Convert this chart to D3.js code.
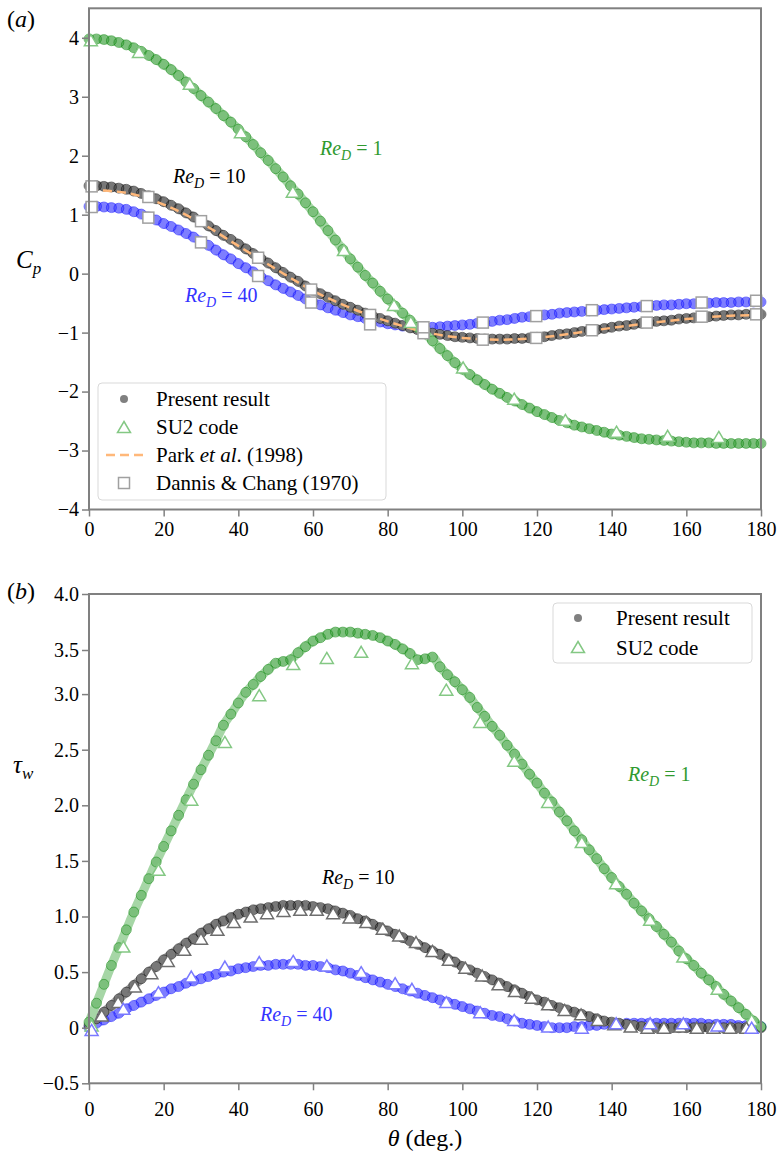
<!DOCTYPE html>
<html>
<head>
<meta charset="utf-8">
<script src="https://cdn.jsdelivr.net/npm/d3@7"></script>
<style>
  body { margin: 0; background: #fff; }
  text { font-family: "Liberation Serif", "Times New Roman", serif; }
</style>
</head>
<body>
<div id="chart"></div>
<script>
// sample angles of the present result (deg.)
const thetaDots = [0,2,4,6,8,10,12,14,16,18,20,22,24,26,28,30,32,34,36,38,40,42,44,46,48,50,52,54,56,58,
  60,62,64,66,68,70,72,74,76,78,80,82,84,86,88,90,92,94,96,98,100,102,104,106,108,110,112,114,116,118,
  120,122,124,126,128,130,132,134,136,138,140,142,144,146,148,150,152,154,156,158,160,162,164,166,168,170,
  172,174,176,178,180];

// (a) pressure coefficient, present result
const cpRe1 = [3.98,3.98,3.97,3.95,3.92,3.88,3.83,3.77,3.70,3.63,
  3.55,3.46,3.36,3.25,3.14,3.02,2.91,2.80,2.68,2.57,
  2.45,2.32,2.19,2.05,1.92,1.78,1.64,1.49,1.35,1.20,
  1.05,0.89,0.73,0.57,0.41,0.25,0.11,-0.03,-0.16,-0.30,
  -0.43,-0.55,-0.67,-0.79,-0.91,-1.02,-1.14,-1.27,-1.39,-1.51,
  -1.62,-1.71,-1.80,-1.88,-1.96,-2.03,-2.10,-2.16,-2.22,-2.28,
  -2.34,-2.39,-2.44,-2.49,-2.53,-2.57,-2.60,-2.63,-2.66,-2.69,
  -2.72,-2.74,-2.76,-2.78,-2.80,-2.81,-2.82,-2.83,-2.84,-2.85,
  -2.86,-2.87,-2.87,-2.87,-2.88,-2.88,-2.88,-2.88,-2.88,-2.88,-2.88];
const cpRe10 = [1.49,1.49,1.48,1.47,1.45,1.43,1.40,1.36,1.32,1.27,
  1.22,1.16,1.10,1.03,0.96,0.89,0.81,0.73,0.65,0.58,
  0.50,0.42,0.34,0.26,0.18,0.10,0.02,-0.06,-0.13,-0.21,
  -0.28,-0.34,-0.40,-0.46,-0.52,-0.57,-0.62,-0.67,-0.72,-0.76,
  -0.80,-0.84,-0.88,-0.92,-0.95,-0.98,-1.01,-1.03,-1.05,-1.07,
  -1.08,-1.09,-1.10,-1.11,-1.11,-1.11,-1.11,-1.10,-1.10,-1.09,
  -1.08,-1.07,-1.05,-1.03,-1.02,-1.00,-0.98,-0.96,-0.95,-0.93,
  -0.91,-0.89,-0.88,-0.86,-0.84,-0.83,-0.81,-0.80,-0.79,-0.77,
  -0.76,-0.75,-0.74,-0.73,-0.72,-0.71,-0.70,-0.70,-0.69,-0.69,-0.69];
const cpRe40 = [1.14,1.14,1.13,1.12,1.11,1.09,1.05,1.01,0.96,0.91,
  0.85,0.80,0.74,0.68,0.62,0.55,0.48,0.40,0.32,0.25,
  0.17,0.10,0.03,-0.05,-0.12,-0.19,-0.25,-0.31,-0.37,-0.43,
  -0.49,-0.53,-0.58,-0.62,-0.66,-0.70,-0.73,-0.76,-0.79,-0.82,
  -0.85,-0.87,-0.89,-0.90,-0.91,-0.91,-0.91,-0.90,-0.89,-0.88,
  -0.87,-0.86,-0.84,-0.83,-0.81,-0.79,-0.78,-0.76,-0.74,-0.73,
  -0.71,-0.70,-0.69,-0.67,-0.66,-0.65,-0.64,-0.63,-0.62,-0.61,
  -0.60,-0.59,-0.58,-0.57,-0.56,-0.55,-0.54,-0.53,-0.53,-0.52,
  -0.51,-0.51,-0.50,-0.50,-0.49,-0.49,-0.49,-0.48,-0.48,-0.48,-0.48];

// (a) SU2 code, Re_D = 1
const su2ThetaA = [0.5,13.4,27,40.7,54.6,68.3,81.7,86.2,100.2,113.9,127.6,141.3,155,168.7];
const su2CpRe1 = [3.96,3.76,3.22,2.40,1.39,0.40,-0.53,-0.82,-1.59,-2.12,-2.48,-2.68,-2.75,-2.77];

// (a) Park et al. (1998), Re_D = 10
const parkTheta = [0,10,20,30,40,50,60,70,80,90,100,110,120,130,140,150,160,170,180];
const parkCp = [1.42,1.37,1.17,0.86,0.47,0.08,-0.29,-0.58,-0.81,-0.99,-1.09,-1.12,-1.09,-1.01,-0.92,-0.84,-0.77,-0.72,-0.70];

// (a) Dannis & Chang (1970)
const dcTheta = [0.7,15.9,30,45.3,59.5,75.3,89.6,105.5,119.8,134.7,149.4,164.1,178.7];
const dcRe10 = [1.48,1.30,0.89,0.27,-0.27,-0.70,-1.01,-1.12,-1.09,-0.96,-0.83,-0.73,-0.69];
const dcRe40 = [1.13,0.95,0.53,-0.04,-0.49,-0.86,-0.91,-0.83,-0.72,-0.62,-0.55,-0.49,-0.46];

// (b) wall shear stress, present result
const tauRe1 = [0.05,0.22,0.39,0.56,0.72,0.88,1.04,1.19,1.34,1.49,
  1.63,1.77,1.91,2.05,2.19,2.32,2.45,2.58,2.72,2.82,
  2.92,3.02,3.11,3.20,3.28,3.35,3.37,3.39,3.47,3.53,
  3.58,3.61,3.64,3.66,3.66,3.66,3.65,3.64,3.63,3.61,
  3.58,3.55,3.51,3.46,3.39,3.40,3.42,3.31,3.22,3.14,
  3.05,2.97,2.88,2.80,2.71,2.63,2.54,2.46,2.37,2.28,
  2.20,2.11,2.03,1.94,1.86,1.77,1.69,1.60,1.52,1.43,
  1.35,1.27,1.20,1.12,1.05,0.98,0.91,0.84,0.77,0.69,
  0.62,0.56,0.49,0.43,0.37,0.30,0.24,0.18,0.12,0.06,0.01];
const tauRe10 = [0.02,0.08,0.14,0.20,0.26,0.32,0.38,0.44,0.50,0.55,
  0.61,0.66,0.71,0.76,0.80,0.85,0.89,0.93,0.96,0.99,
  1.02,1.04,1.06,1.07,1.08,1.09,1.10,1.10,1.10,1.10,
  1.09,1.08,1.07,1.05,1.03,1.01,0.98,0.96,0.93,0.90,
  0.87,0.84,0.81,0.78,0.75,0.72,0.69,0.66,0.62,0.59,
  0.55,0.52,0.49,0.46,0.43,0.40,0.37,0.34,0.31,0.28,
  0.25,0.23,0.20,0.18,0.16,0.14,0.12,0.10,0.08,0.06,
  0.05,0.04,0.03,0.02,0.01,0.01,0.00,0.00,0.00,0.00,
  0.00,0.00,0.00,0.00,0.00,0.00,0.00,0.00,0.00,0.00,0.00];
const tauRe40 = [0.00,0.04,0.07,0.10,0.13,0.17,0.20,0.23,0.26,0.29,
  0.32,0.35,0.37,0.40,0.42,0.44,0.46,0.48,0.50,0.51,
  0.53,0.54,0.55,0.56,0.56,0.57,0.57,0.57,0.57,0.56,
  0.56,0.55,0.54,0.52,0.51,0.49,0.47,0.45,0.43,0.41,
  0.39,0.37,0.35,0.33,0.31,0.29,0.27,0.25,0.23,0.21,
  0.19,0.17,0.15,0.13,0.11,0.10,0.08,0.06,0.04,0.03,
  0.02,0.01,0.00,0.00,0.00,0.01,0.01,0.02,0.02,0.03,
  0.03,0.03,0.04,0.04,0.04,0.04,0.04,0.04,0.04,0.04,
  0.04,0.04,0.04,0.03,0.03,0.03,0.03,0.02,0.02,0.01,0.01];

// (b) SU2 code
const su2ThetaB = [0.7,9.2,18.6,27.4,36.4,45.6,54.7,63.7,72.9,82.0,86.5,95.7,104.8,113.9,123.0,132.0,141.2,150.3,159.2,168.4,177.5];
const su2TauRe1 = [0.02,0.73,1.42,2.05,2.57,2.99,3.34,3.41,3.48,null,3.35,3.05,2.75,2.40,2.03,1.67,1.30,0.97,0.64,0.35,0.07];
const su2TauRe40 = [-0.02,0.17,0.32,0.46,0.55,0.59,0.60,0.56,0.50,0.40,0.35,0.23,0.14,0.07,0.01,0.00,0.04,0.04,0.04,0.02,0.00];
const su2ThetaB10 = [3.4,7.8,12.3,16.7,21.1,25.5,30.0,34.4,38.8,43.3,47.7,52.1,56.6,61.0,65.4,69.8,74.3,78.7,83.1,87.6,
  92.0,96.4,100.8,105.3,109.7,114.1,118.6,123.0,127.4,131.8,136.3,140.7,145.1,149.6,154.0,158.4,162.8,167.3,171.7,176.1];
const su2TauRe10 = [0.11,0.23,0.37,0.49,0.60,0.70,0.80,0.88,0.95,1.00,1.03,1.05,1.06,1.06,1.03,0.99,0.95,0.89,0.83,0.77,
  0.69,0.61,0.54,0.47,0.39,0.33,0.27,0.21,0.16,0.12,0.07,0.03,0.01,0.00,0.00,0.01,0.00,0.00,0.00,0.00];

// ticks
const xTicks = [0,20,40,60,80,100,120,140,160,180];
const cpTicks = [-4,-3,-2,-1,0,1,2,3,4];
const tauTicks = [-0.5,0,0.5,1,1.5,2,2.5,3,3.5,4];

const C = {
  green: "#2f9a2f", blue: "#3333ff",
  triGreen: "#84c884", triGray: "#6e6e6e", triBlue: "#7a7aff",
  square: "#a0a0a0", park: "#ffb87a", axis: "#808080"
};
const SERIF = '"Liberation Serif", "Times New Roman", serif';

const svg = d3.select("#chart").append("svg")
  .attr("width", 778).attr("height", 1157);

const x = d3.scaleLinear().domain([0, 180]).range([89, 761]);
const yA = d3.scaleLinear().domain([-4, 4.5]).range([509.5, 8.3]);
const yB = d3.scaleLinear().domain([-0.5, 3, 3.5, 4]).range([1083.3, 694.1, 650, 594]);

const cpFmt = v => (v < 0 ? "\u2212" : "") + Math.abs(v);
const tauFmt = v => v === 0 ? "0" : (v < 0 ? "\u2212" : "") + Math.abs(v).toFixed(1);

function triPath(w, h) {
  return `M0,${-h / 2}L${w / 2},${h / 2}L${-w / 2},${h / 2}Z`;
}

// present result: a faint band through the samples, then the ring markers
function dots(g, y, vals, col, bandCol) {
  const pts = d3.zip(thetaDots, vals);
  g.append("path").datum(pts)
    .attr("d", d3.line().x(d => x(d[0])).y(d => y(d[1])).curve(d3.curveMonotoneX))
    .attr("fill", "none").attr("stroke", bandCol).attr("stroke-width", 9)
    .attr("stroke-linecap", "round");
  g.append("g").selectAll("circle")
    .data(pts)
    .join("circle")
    .attr("cx", d => x(d[0]))
    .attr("cy", d => y(d[1]))
    .attr("r", 5)
    .attr("fill", col).attr("fill-opacity", 0.25)
    .attr("stroke", col).attr("stroke-opacity", 0.45).attr("stroke-width", 1);
}

function triangles(g, y, th, vals, col) {
  g.append("g").selectAll("path")
    .data(d3.zip(th, vals).filter(d => d[1] !== null))
    .join("path")
    .attr("d", triPath(13, 11))
    .attr("transform", d => `translate(${x(d[0])},${y(d[1])})`)
    .attr("fill", "#fff").attr("stroke", col).attr("stroke-width", 1.5);
}

function squares(g, y, th, vals) {
  g.append("g").selectAll("rect")
    .data(d3.zip(th, vals))
    .join("rect")
    .attr("x", d => x(d[0]) - 5.5).attr("y", d => y(d[1]) - 5.5)
    .attr("width", 11).attr("height", 11)
    .attr("fill", "#fff").attr("stroke", C.square).attr("stroke-width", 1.5);
}

function axes(y, yTicks, yFmt, top, bottom, xPad) {
  const gx = svg.append("g").attr("transform", `translate(0,${bottom})`)
    .call(d3.axisBottom(x).tickValues(xTicks).tickSize(7).tickPadding(xPad));
  const gy = svg.append("g").attr("transform", "translate(89,0)")
    .call(d3.axisLeft(y).tickValues(yTicks).tickFormat(yFmt).tickSize(7).tickPadding(3));
  [gx, gy].forEach(a => {
    a.attr("font-family", null).attr("font-size", null);
    a.select(".domain").remove();
    a.selectAll(".tick line").attr("stroke", C.axis).attr("stroke-width", 1.5);
    a.selectAll(".tick text").attr("fill", "#000")
      .style("font-family", SERIF).style("font-size", "20px");
  });
  svg.append("rect").attr("x", 89).attr("y", top)
    .attr("width", 672).attr("height", bottom - top)
    .attr("fill", "none").attr("stroke", C.axis).attr("stroke-width", 2);
}

function reLabel(px, py, num, col) {
  const t = svg.append("text").attr("x", px).attr("y", py)
    .attr("fill", col).attr("font-size", 20);
  t.append("tspan").attr("font-style", "italic").text("Re");
  t.append("tspan").attr("font-style", "italic").attr("font-size", 14).attr("dy", 5).text("D");
  t.append("tspan").attr("dy", -5).text(" = " + num);
}

function subLabel(px, py, main, sub) {
  const t = svg.append("text").attr("x", px).attr("y", py).attr("font-size", 25);
  t.append("tspan").attr("font-style", "italic").text(main);
  t.append("tspan").attr("font-style", "italic").attr("font-size", 17).attr("dy", 6).text(sub);
}

function panelTag(py, letter) {
  const t = svg.append("text").attr("x", 7).attr("y", py).attr("font-size", 24);
  t.append("tspan").text("(");
  t.append("tspan").attr("font-style", "italic").text(letter);
  t.append("tspan").text(")");
}

// ---------- panel (a) ----------
const gA = svg.append("g");
dots(gA, yA, cpRe40, "#0000ff", "#a8a8ff");
dots(gA, yA, cpRe10, "#000000", "#a0a0a0");
dots(gA, yA, cpRe1, "#008000", "#a6d6a6");
gA.append("path")
  .datum(d3.zip(parkTheta, parkCp))
  .attr("d", d3.line().x(d => x(d[0])).y(d => yA(d[1])).curve(d3.curveMonotoneX))
  .attr("fill", "none").attr("stroke", C.park).attr("stroke-width", 2.5)
  .attr("stroke-dasharray", "9,5");
triangles(gA, yA, su2ThetaA, su2CpRe1, C.triGreen);
squares(gA, yA, dcTheta, dcRe10);
squares(gA, yA, dcTheta, dcRe40);
axes(yA, cpTicks, cpFmt, 8.3, 509.5, 5);

// legend (a)
const lgA = svg.append("g");
lgA.append("rect").attr("x", 98).attr("y", 383).attr("width", 288).attr("height", 117)
  .attr("rx", 4).attr("fill", "#fff").attr("stroke", "#d9d9d9");
lgA.append("circle").attr("cx", 124).attr("cy", 399).attr("r", 4).attr("fill", "#808080");
lgA.append("path").attr("d", triPath(13, 11)).attr("transform", "translate(124,427)")
  .attr("fill", "#fff").attr("stroke", C.triGreen).attr("stroke-width", 1.5);
lgA.append("line").attr("x1", 106).attr("x2", 143).attr("y1", 455).attr("y2", 455)
  .attr("stroke", C.park).attr("stroke-width", 2.5).attr("stroke-dasharray", "9,5");
lgA.append("rect").attr("x", 118.5).attr("y", 477.5).attr("width", 11).attr("height", 11)
  .attr("fill", "#fff").attr("stroke", C.square).attr("stroke-width", 1.5);
const legA = ["Present result", "SU2 code", null, "Dannis & Chang (1970)"];
const legY = [399, 427, 455, 483];
legA.forEach((s, i) => {
  const t = lgA.append("text").attr("x", 156).attr("y", legY[i] + 7).attr("font-size", 21);
  if (s) t.text(s);
  else {
    t.append("tspan").text("Park ");
    t.append("tspan").attr("font-style", "italic").text("et al");
    t.append("tspan").text(". (1998)");
  }
});

reLabel(320, 155, "1", C.green);
reLabel(173, 183, "10", "#000");
reLabel(185, 302, "40", C.blue);
subLabel(16, 268, "C", "p");
panelTag(27, "a");

// ---------- panel (b) ----------
const gB = svg.append("g");
dots(gB, yB, tauRe40, "#0000ff", "#a8a8ff");
dots(gB, yB, tauRe10, "#000000", "#a0a0a0");
dots(gB, yB, tauRe1, "#008000", "#a6d6a6");
triangles(gB, yB, su2ThetaB, su2TauRe1, C.triGreen);
triangles(gB, yB, su2ThetaB10, su2TauRe10, C.triGray);
triangles(gB, yB, su2ThetaB, su2TauRe40, C.triBlue);
axes(yB, tauTicks, tauFmt, 594, 1083.3, 12);

// legend (b)
const lgB = svg.append("g");
lgB.append("rect").attr("x", 553).attr("y", 603).attr("width", 199).attr("height", 60)
  .attr("rx", 4).attr("fill", "#fff").attr("stroke", "#d9d9d9");
lgB.append("circle").attr("cx", 578).attr("cy", 618).attr("r", 4).attr("fill", "#808080");
lgB.append("path").attr("d", triPath(13, 11)).attr("transform", "translate(578,647)")
  .attr("fill", "#fff").attr("stroke", C.triGreen).attr("stroke-width", 1.5);
lgB.append("text").attr("x", 616).attr("y", 625).attr("font-size", 21).text("Present result");
lgB.append("text").attr("x", 616).attr("y", 655).attr("font-size", 21).text("SU2 code");

reLabel(628, 781, "1", C.green);
reLabel(322, 884, "10", "#000");
reLabel(260, 1021, "40", C.blue);
subLabel(13, 773, "\u03c4", "w");
panelTag(599, "b");

const xl = svg.append("text").attr("x", 425).attr("y", 1146)
  .attr("text-anchor", "middle").attr("font-size", 24);
xl.append("tspan").attr("font-style", "italic").text("\u03b8");
xl.append("tspan").text(" (deg.)");
</script>
</body>
</html>
